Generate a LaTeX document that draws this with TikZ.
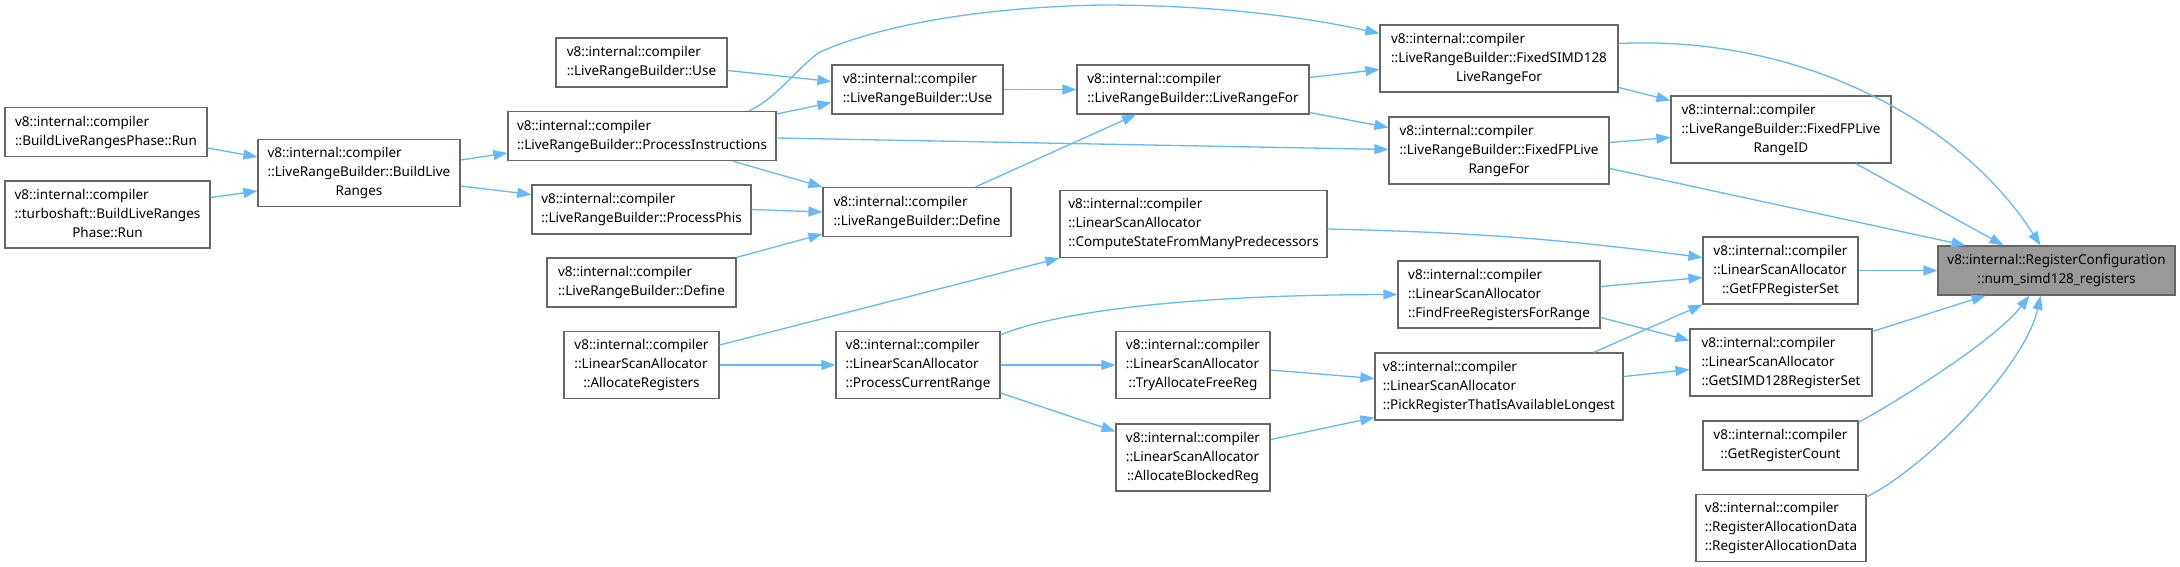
\documentclass[tikz,border=0pt]{standalone}
\usepackage{fontspec}
\setmainfont{Noto Sans}
\usetikzlibrary{arrows.meta}
\definecolor{frame}{RGB}{102,102,102}
\definecolor{focus}{RGB}{153,153,153}
\definecolor{steel}{RGB}{99,184,255}
\newcommand{\fnfont}{\fontsize{13.5}{19}\selectfont}
% lines set left, the last one centred
\newcommand{\fnlines}[2]{\begin{tabular}{@{}l@{}}#1\\\multicolumn{1}{@{}c@{}}{#2}\end{tabular}}
\tikzset{
  >={Triangle[length=14pt,width=10pt]},
  fn/.style={draw=frame,fill=white,line width=1.2pt,inner sep=0pt,font=\fnfont,
    minimum width=#1,align=center},
  fn focus/.style={fn=#1,fill=focus},
  h2/.style={minimum height=49pt},
  h3/.style={minimum height=67pt},
  call/.style={->,draw=steel,line width=1.3pt},
}
\begin{document}
\begin{tikzpicture}[x=1pt,y=-1pt]
  \useasboundingbox (0,0) rectangle (2180,567);
  \node[fn=202pt,h2] (bphase) at (106,132) {\fnlines{v8::internal::compiler}{::BuildLiveRangesPhase::Run}};
  \node[fn=205pt,h3] (tphase) at (107.5,214.5) {\fnlines{v8::internal::compiler\\::turboshaft::BuildLiveRanges}{Phase::Run}};
  \node[fn=202pt,h3] (build) at (359,173) {\fnlines{v8::internal::compiler\\::LiveRangeBuilder::BuildLive}{Ranges}};
  \node[fn=171pt,h2] (use1) at (641.5,62.5) {\fnlines{v8::internal::compiler}{::LiveRangeBuilder::Use}};
  \node[fn=268pt,h2] (procinstr) at (642,136) {\fnlines{v8::internal::compiler}{::LiveRangeBuilder::ProcessInstructions}};
  \node[fn=219pt,h2] (procphis) at (641.5,209.5) {\fnlines{v8::internal::compiler}{::LiveRangeBuilder::ProcessPhis}};
  \node[fn=189pt,h2] (define1) at (641.5,282.5) {\fnlines{v8::internal::compiler}{::LiveRangeBuilder::Define}};
  \node[fn=155pt,h3] (allocregs) at (641.5,365) {\fnlines{v8::internal::compiler\\::LinearScanAllocator}{::AllocateRegisters}};
  \node[fn=171pt,h2] (use2) at (917.5,89.5) {\fnlines{v8::internal::compiler}{::LiveRangeBuilder::Use}};
  \node[fn=188pt,h2] (define2) at (917,212) {\fnlines{v8::internal::compiler}{::LiveRangeBuilder::Define}};
  \node[fn=164pt,h3] (curr) at (918,365) {\fnlines{v8::internal::compiler\\::LinearScanAllocator}{::ProcessCurrentRange}};
  \node[fn=232pt,h2] (lrfor) at (1193,89.5) {\fnlines{v8::internal::compiler}{::LiveRangeBuilder::LiveRangeFor}};
  \node[fn=267pt,h3] (cstate) at (1193.5,224) {\fnlines{v8::internal::compiler\\::LinearScanAllocator}{::ComputeStateFromManyPredecessors}};
  \node[fn=154pt,h3] (tryfree) at (1193,365) {\fnlines{v8::internal::compiler\\::LinearScanAllocator}{::TryAllocateFreeReg}};
  \node[fn=154pt,h3] (blocked) at (1193,457.5) {\fnlines{v8::internal::compiler\\::LinearScanAllocator}{::AllocateBlockedReg}};
  \node[fn=238pt,h3] (fsimd) at (1499,58.5) {\fnlines{v8::internal::compiler\\::LiveRangeBuilder::FixedSIMD128}{LiveRangeFor}};
  \node[fn=220pt,h3] (ffor) at (1499,150.5) {\fnlines{v8::internal::compiler\\::LiveRangeBuilder::FixedFPLive}{RangeFor}};
  \node[fn=202pt,h3] (findfree) at (1499,294.5) {\fnlines{v8::internal::compiler\\::LinearScanAllocator}{::FindFreeRegistersForRange}};
  \node[fn=248pt,h3] (pick) at (1499,386.5) {\fnlines{v8::internal::compiler\\::LinearScanAllocator}{::PickRegisterThatIsAvailableLongest}};
  \node[fn=220pt,h3] (fid) at (1781,129.5) {\fnlines{v8::internal::compiler\\::LiveRangeBuilder::FixedFPLive}{RangeID}};
  \node[fn=155pt,h3] (getfp) at (1780.5,270.5) {\fnlines{v8::internal::compiler\\::LinearScanAllocator}{::GetFPRegisterSet}};
  \node[fn=182pt,h3] (getsimd) at (1781,362.5) {\fnlines{v8::internal::compiler\\::LinearScanAllocator}{::GetSIMD128RegisterSet}};
  \node[fn=155pt,h2] (getcount) at (1780.5,445.5) {\fnlines{v8::internal::compiler}{::GetRegisterCount}};
  \node[fn=170pt,h3] (regdata) at (1781,528) {\fnlines{v8::internal::compiler\\::RegisterAllocationData}{::RegisterAllocationData}};
  \node[fn focus=237pt,h2] (numsimd) at (2056.5,270.5) {\fnlines{v8::internal::RegisterConfiguration}{::num\_simd128\_registers}};
  % calls
  \draw[call] ([yshift=-16pt]bphase.east) -- ([yshift=16pt]build.west);
  \draw[call] ([yshift=17pt]tphase.east) -- ([yshift=-18pt]build.west);
  \draw[call] ([yshift=13pt]build.east) -- ([yshift=-17pt]procinstr.west);
  \draw[call] ([yshift=-13pt]build.east) -- ([yshift=15pt]procphis.west);
  \draw[call] ([yshift=-8pt]use1.east) -- ([yshift=8pt]use2.west);
  \draw[call] ([yshift=22pt]procinstr.east) -- ([yshift=-13pt]use2.west);
  \draw[call] ([xshift=-28pt]procinstr.north east) .. controls (775,100) and (800,65) .. (820,52)
    .. controls (870,30) and (960,8) .. (1100,5) .. controls (1220,5) and (1310,18) .. ([yshift=25pt]fsimd.west);
  \draw[call] ([yshift=-2pt]procinstr.east) -- ([yshift=1pt]ffor.west);
  \draw[call] ([xshift=-44pt]procinstr.south east) -- (define2.north west);
  \draw[call] (procphis.east) -- (define2.west);
  \draw[call] (define1.north east) -- ([yshift=-22pt]define2.west);
  \draw[call] (use2) -- (lrfor);
  \draw[call] ([xshift=-36pt]define2.north east) -- ([xshift=-57pt]lrfor.south);
  \draw[call] ([yshift=12pt]lrfor.east) -- ([yshift=-11pt]fsimd.west);
  \draw[call] ([yshift=-23pt]lrfor.east) -- ([yshift=23pt]ffor.west);
  \draw[call] ([yshift=-29pt]fsimd.east) -- ([yshift=29pt]fid.west);
  \draw[call] ([yshift=8pt]ffor.east) -- ([yshift=-8pt]fid.west);
  \draw[call] ([yshift=15pt]fsimd.east) .. controls (1800,35) and (1960,120) .. ([xshift=-16pt]numsimd.north);
  \draw[call] ([xshift=75pt]fid.south) -- ([xshift=-53pt]numsimd.north);
  \draw[call] ([yshift=-18pt]ffor.east) -- ([xshift=-91pt]numsimd.north);
  \draw[call] ([yshift=-5pt]cstate.east) to[bend left=3] ([yshift=13pt]getfp.west);
  \draw[call] ([yshift=20pt]allocregs.east) -- (cstate.south west);
  \draw[call] (allocregs) -- (curr);
  \draw[call] ([yshift=-4pt]curr.north east) .. controls (1040,318) and (1150,295) .. (findfree.west);
  \draw[call] (curr) -- (tryfree);
  \draw[call] ([yshift=-28pt]curr.east) -- ([yshift=26pt]blocked.west);
  \draw[call] ([yshift=-5pt]tryfree.east) -- ([yshift=8pt]pick.west);
  \draw[call] ([yshift=18pt]blocked.east) -- ([yshift=-31pt]pick.west);
  \draw[call] ([yshift=8pt]findfree.east) -- ([yshift=-7pt]getfp.west);
  \draw[call] ([yshift=-23pt]findfree.east) -- ([yshift=22pt]getsimd.west);
  \draw[call] ([xshift=-30pt]pick.north east) -- (getfp.south west);
  \draw[call] ([yshift=10pt]pick.east) -- ([yshift=-7pt]getsimd.west);
  \draw[call] (getfp) -- (numsimd);
  \draw[call] ([yshift=-3pt]getsimd.north east) -- ([xshift=-71pt]numsimd.south);
  \draw[call] ([yshift=-2pt]getcount.north east) .. controls +(40,-22) and +(-35,45) .. ([xshift=-27pt]numsimd.south);
  \draw[call] ([yshift=-3pt]regdata.north east) .. controls +(60,-30) and +(-15,70) .. ([xshift=-16pt]numsimd.south);
\end{tikzpicture}
\end{document}
